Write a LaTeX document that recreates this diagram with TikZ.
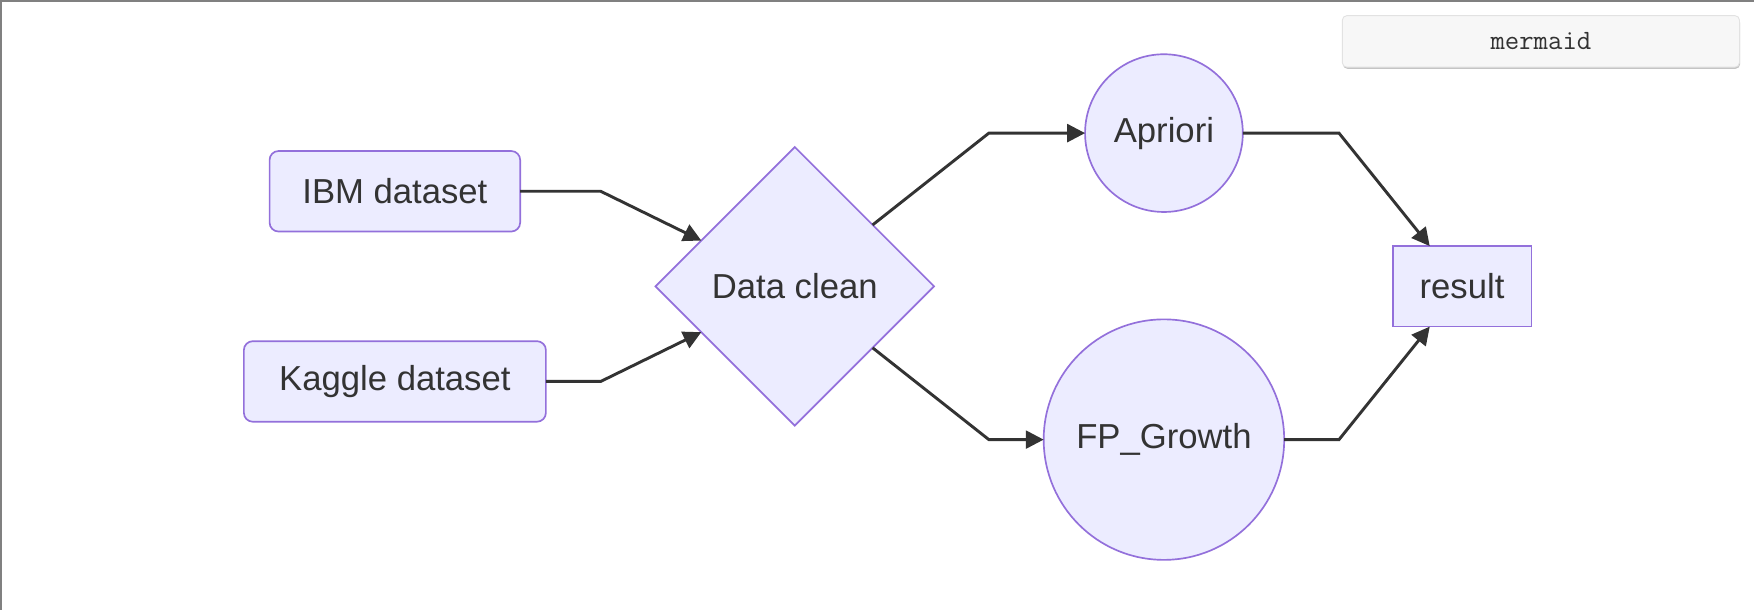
\documentclass[tikz,border=0pt]{standalone}
\usepackage{fontspec}
\setmainfont{Liberation Sans}
\usetikzlibrary{shapes.geometric,arrows.meta}
\definecolor{nodefill}{HTML}{ECECFF}
\definecolor{nodeline}{HTML}{9370DB}
\definecolor{edgecol}{HTML}{333333}
\definecolor{txtcol}{HTML}{333333}
\definecolor{framecol}{HTML}{808080}
\definecolor{btnfill}{HTML}{F7F7F7}
\definecolor{btnline}{HTML}{E2E2E2}
\definecolor{btnshadow}{HTML}{C4C4C4}
\tikzset{
  base/.style={draw=nodeline, fill=nodefill, line width=1.5pt, text=txtcol,
    font=\fontsize{31}{37}\selectfont, inner sep=0pt, outer sep=0pt},
  roundbox/.style={base, rectangle, rounded corners=8pt, minimum height=72pt},
  sqbox/.style={base, rectangle, minimum height=72pt},
  decision/.style={base, diamond, minimum width=249pt, minimum height=249pt},
  algo/.style={base, circle},
  flow/.style={draw=edgecol, line width=2.6pt, -{Triangle[length=16pt,width=16pt]}},
  btn/.style={rectangle, rounded corners=4pt, fill=btnfill, draw=btnline, line width=0.8pt,
    minimum width=355pt, minimum height=46pt, font=\ttfamily\fontsize{25}{30}\selectfont, text=txtcol}
}
\begin{document}
\begin{tikzpicture}[x=1pt, y=-1pt]
\useasboundingbox (0,0) rectangle (1568,545);
\fill[white] (0,0) rectangle (1568,545);
\draw[framecol, line width=2pt] (1,545) -- (1,1) -- (1568,1);

% mermaid button
\fill[btnshadow, rounded corners=4pt] (1200.5,16) rectangle (1555.5,61.5);
\node[btn] (btn) at (1377.5,37) {mermaid};

% nodes
\node[roundbox, minimum width=224pt] (ibm) at (353,171) {IBM dataset};
\node[roundbox, minimum width=270pt] (kag) at (353,341) {Kaggle dataset};
\node[decision] (dc) at (710.5,256) {Data clean};
\node[algo, minimum size=141pt] (apr) at (1040.5,119) {Apriori};
\node[algo, minimum size=215pt] (fp) at (1040.5,393) {FP\_Growth};
\node[sqbox, minimum width=124pt] (res) at (1307,256) {result};

% bend points
\coordinate (b1) at (537,171);
\coordinate (b2) at (537,341);
\coordinate (b3) at (884,119);
\coordinate (b4) at (884,393);
\coordinate (b5) at (1197,119);
\coordinate (b6) at (1197,393);

% connectors
\draw[flow] (ibm.east) -- (b1) -- (dc);
\draw[flow] (kag.east) -- (b2) -- (dc);
\draw[flow] (dc) -- (b3) -- (apr.west);
\draw[flow] (dc) -- (b4) -- (fp.west);
\draw[flow] (apr.east) -- (b5) -- (res);
\draw[flow] (fp.east) -- (b6) -- (res);
\end{tikzpicture}
\end{document}
